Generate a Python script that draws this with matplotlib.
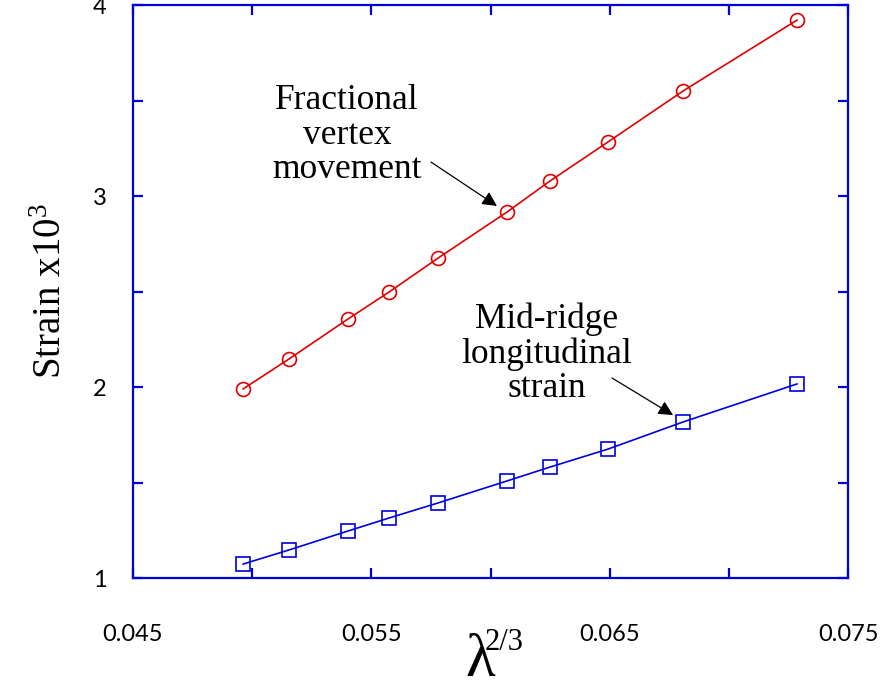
import matplotlib.pyplot as plt
from matplotlib.ticker import FixedLocator, NullFormatter

# lambda^(2/3) values, shared by both series
lam = [0.04962, 0.05155, 0.05402, 0.05574, 0.0578, 0.06069, 0.0625, 0.06493, 0.06808, 0.07286]
# strain x10^3
vertex = [1.99, 2.147, 2.356, 2.497, 2.675, 2.916, 3.079, 3.283, 3.55, 3.921]
ridge = [1.073, 1.147, 1.246, 1.314, 1.393, 1.508, 1.581, 1.675, 1.817, 2.016]

xticks = [0.045, 0.055, 0.065, 0.075]
xminor = [0.05, 0.06, 0.07]
yticks = [1, 2, 3, 4]
yminor = [1.5, 2.5, 3.5]

serif = 'Liberation Serif'
blue = '#0000dd'

plt.rcParams['mathtext.fontset'] = 'custom'
plt.rcParams['mathtext.rm'] = serif
plt.rcParams['mathtext.it'] = serif + ':italic'

fig = plt.figure(figsize=(8.83, 6.89), dpi=100)
ax = fig.add_axes([0.1506, 0.1611, 0.8098, 0.8316])

ax.plot(lam, vertex, '-o', color='#e00000', lw=1.2, ms=10, mfc='none', mew=1.2)
ax.plot(lam, ridge, '-s', color=blue, lw=1.2, ms=10, mfc='none', mew=1.2)

ax.set_xlim(0.045, 0.075)
ax.set_ylim(1, 4)

for s in ax.spines.values():
    s.set_color(blue)
    s.set_linewidth(1.6)

ax.xaxis.set_major_locator(FixedLocator(xticks))
ax.xaxis.set_minor_locator(FixedLocator(xminor))
ax.yaxis.set_major_locator(FixedLocator(yticks))
ax.yaxis.set_minor_locator(FixedLocator(yminor))
ax.set_xticklabels(['0.045', '0.055', '0.065', '0.075'], family='Lato', fontsize=17)
ax.set_yticklabels(['1', '2', '3', '4'], family='Lato', fontsize=17)
ax.xaxis.set_minor_formatter(NullFormatter())
ax.yaxis.set_minor_formatter(NullFormatter())

ax.tick_params(which='both', direction='in', length=7, width=1.6, color=blue,
               top=True, right=True, labelcolor='black')
ax.tick_params(axis='x', which='major', pad=33)
ax.tick_params(axis='y', which='major', pad=19)

ax.set_ylabel('Strain x10$^{3}$', family=serif, fontsize=28, labelpad=16)

fig.text(0.5436, 0.0, '\u03bb', family=serif, fontsize=44, ha='center', va='bottom')
fig.text(0.549, 0.0566, '2/3', family=serif, fontsize=22, ha='left', va='baseline')

ax.text(0.05398, 3.319, 'Fractional\nvertex\nmovement', family=serif, fontsize=25.5,
        ha='center', va='center', linespacing=1.05)
ax.text(0.06237, 2.173, 'Mid-ridge\nlongitudinal\nstrain', family=serif, fontsize=25.5,
        ha='center', va='center', linespacing=1.05)

arrow = dict(arrowstyle='-|>', color='black', lw=0.9, mutation_scale=22,
             shrinkA=0, shrinkB=0)
ax.annotate('', xy=(0.06027, 2.948), xytext=(0.05750, 3.178), arrowprops=arrow)
ax.annotate('', xy=(0.06766, 1.853), xytext=(0.06510, 2.047), arrowprops=arrow)

fig.savefig('out.png', dpi=100)
